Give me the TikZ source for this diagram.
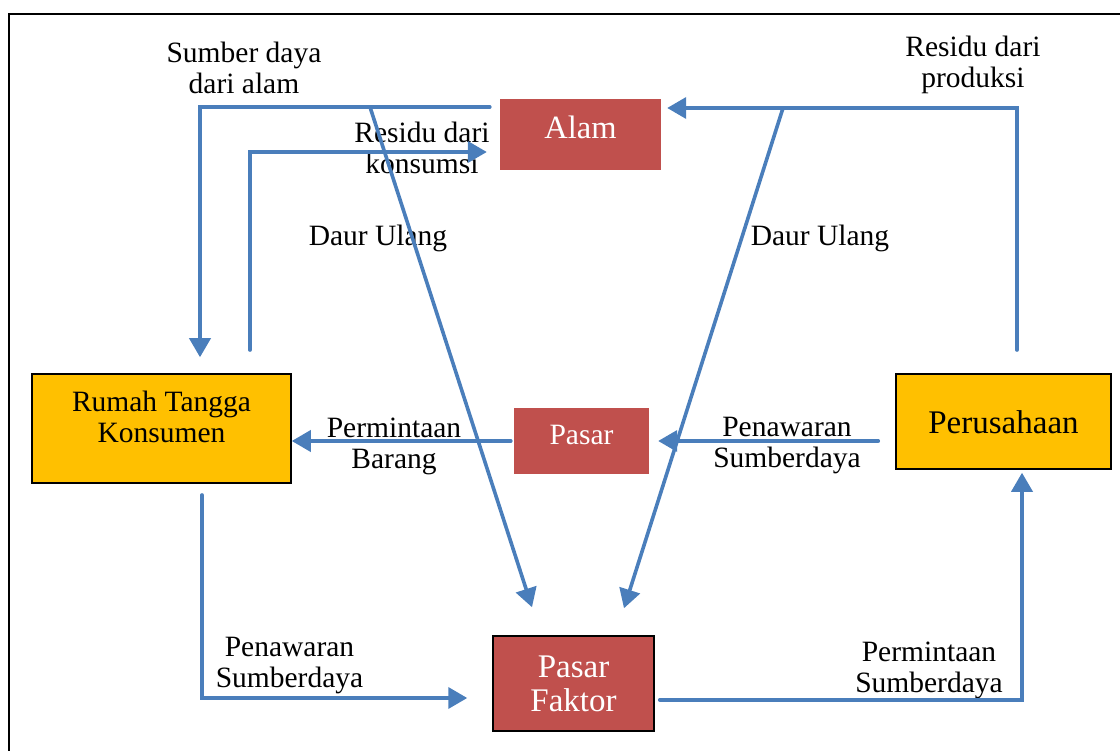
\documentclass[tikz,border=0pt]{standalone}
\usepackage{fontspec}
\setmainfont{Liberation Serif}
\usetikzlibrary{arrows.meta,calc}
\definecolor{flowblue}{HTML}{4A7EBB}
\definecolor{boxred}{HTML}{C0504D}
\definecolor{boxorange}{HTML}{FFC000}
\begin{document}
\begin{tikzpicture}[x=1pt,y=-1pt,
  flow/.style={draw=flowblue, line width=3.6pt, line cap=round, -{Triangle[length=19pt,width=21pt]}},
  lbl/.style={inner sep=0pt, align=center, font=\fontsize{29.5}{31}\selectfont},
  redbox/.style={fill=boxred, text=white, inner sep=0pt},
  orbox/.style={fill=boxorange, draw=black, line width=1.5pt, inner sep=0pt}]
\useasboundingbox (0,0) rectangle (1120,751);
\draw[line width=2.5pt] (9,751) -- (9,14) -- (1120,14);

% boxes
\node[redbox, minimum width=161pt, minimum height=71pt, font=\fontsize{32.5}{34}\selectfont, text height=22pt, text depth=14pt] (alam) at (580.5,134.5) {Alam};
\node[redbox, minimum width=135pt, minimum height=66pt, font=\fontsize{29.5}{31}\selectfont, text height=20pt, text depth=12pt] (pasar) at (581.5,441) {Pasar};
\node[redbox, draw=black, line width=1.5pt, minimum width=161pt, minimum height=95pt, align=center, font=\fontsize{33}{34}\selectfont] (pf) at (573.5,683.5) {Pasar\\Faktor};
\node[orbox, minimum width=259pt, minimum height=109pt] (rumah) at (161.5,428.5) {};
\node[lbl] (rumahtext) at (161.5,417) {Rumah Tangga\\Konsumen};
\node[orbox, minimum width=215pt, minimum height=95pt, font=\fontsize{33}{34}\selectfont, text height=25pt, text depth=0pt] (perus) at (1003.5,421.5) {Perusahaan};

% labels
\node[lbl] (l1) at (244,67.5) {Sumber daya\\dari alam};
\node[lbl] (l2) at (422,148) {Residu dari\\konsumsi};
\node[lbl] (l3) at (973,65) {Residu dari\\produksi};
\node[lbl] (l4) at (378,238) {Daur Ulang};
\node[lbl] (l5) at (820,238) {Daur Ulang};
\node[lbl] (l6) at (394,446) {Permintaan\\Barang};
\node[lbl] (l7) at (787,446) {Penawaran\\Sumberdaya};
\node[lbl] (l8) at (289.5,666) {Penawaran\\Sumberdaya};
\node[lbl] (l9) at (929,670) {Permintaan\\Sumberdaya};

% free ends
\coordinate (d1) at (370,107);
\coordinate (d2) at (783,108);
\coordinate (rk) at (250,350);
\coordinate (rp) at (1017,350);
\coordinate (rs) at (202,495);

% connectors
\draw[flow] ($(alam.west)+(-10,-27.5)$) -| ($(rumah.north)+(38.5,-16)$);
\draw[flow] (rk) |- ($(alam.west)+(-13,17.5)$);
\draw[flow] (rp) |- ($(alam.east)+(6,-26.5)$);
\draw[flow] (d1) -- ($(pf.north)+(-41.5,-28)$);
\draw[flow] (d2) -- ($(pf.north)+(50.5,-27)$);
\draw[flow] ($(pasar.west)+(-3,0)$) -- (rumah.east |- pasar.west);
\draw[flow] ($(perus.west |- pasar.east)+(-17,0)$) -- ($(pasar.east)+(9,0)$);
\draw[flow] (rs) |- ($(pf.west)+(-25,14.5)$);
\draw[flow] ($(pf.east)+(5,16.5)$) -| ($(perus.south)+(18.5,3)$);
\end{tikzpicture}
\end{document}
